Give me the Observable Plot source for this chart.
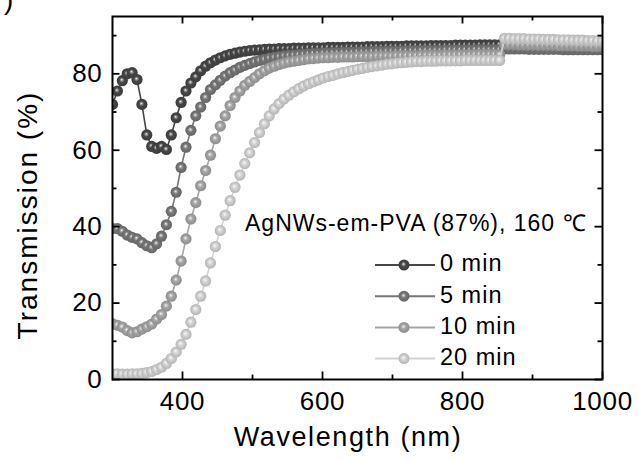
<!DOCTYPE html>
<html><head><meta charset="utf-8">
<script src="https://cdn.jsdelivr.net/npm/d3@7"></script>
<script src="https://cdn.jsdelivr.net/npm/@observablehq/plot@0.6"></script>
<style>html,body{margin:0;padding:0;background:#fff;}</style>
</head><body><div id="chart"></div>
<script>
const wavelength = [
300,307,314,321,328,335,342,349,356,363,
370,377,384,391,398,405,412,419,426,433,
440,447,454,461,468,475,482,489,496,503,
510,517,524,531,538,545,552,559,566,573,
580,587,594,601,608,615,622,629,636,643,
650,657,664,671,678,685,692,699,706,713,
720,727,734,741,748,755,762,769,776,783,
790,797,804,811,818,825,832,839,846,853,
860,867,874,881,888,895,902,909,916,923,
930,937,944,951,958,965,972,979,986,993,
1000];
const seriesNames = ["0 min", "5 min", "10 min", "20 min"];
const trans0 = [
72,75.5,78.2,80,80.3,78.5,72,64,61,60.5,61,60.2,64,68.5,72.5,75.5,77.6,79.2,80.8,82,
82.9,83.6,84.2,84.7,85.1,85.4,85.7,85.9,86.1,86.2,86.3,86.4,86.5,86.5,86.6,86.6,86.6,86.7,86.7,86.7,
86.8,86.8,86.8,86.8,86.9,86.9,86.9,86.9,87.0,87.0,87.0,87.0,87.1,87.1,87.1,87.1,87.2,87.2,87.2,87.2,
87.3,87.3,87.3,87.3,87.3,87.4,87.4,87.4,87.4,87.4,87.5,87.5,87.5,87.5,87.5,87.6,87.6,87.6,87.6,87.6,
87.5,87.5,87.5,87.4,87.4,87.4,87.4,87.3,87.3,87.3,87.3,87.2,87.2,87.2,87.2,87.1,87.1,87.1,87.0,87.0,87.0];
const trans5 = [
39.5,39.5,38.8,37.8,37.2,36.8,35.8,35,34.5,35.5,37.5,40.5,44,49,55.5,60.8,65.2,69,71.3,73.8,
75.9,77.1,78.3,79.4,80.3,81,81.7,82.2,82.7,83.1,83.5,83.8,84.1,84.3,84.5,84.7,84.8,84.9,85.0,85.1,
85.2,85.3,85.3,85.4,85.4,85.5,85.5,85.6,85.6,85.6,85.7,85.7,85.7,85.8,85.8,85.8,85.9,85.9,85.9,86.0,
86.0,86.0,86.0,86.1,86.1,86.1,86.1,86.1,86.2,86.2,86.2,86.2,86.2,86.2,86.3,86.3,86.3,86.3,86.3,86.3,
86.5,86.5,86.5,86.5,86.5,86.4,86.4,86.4,86.4,86.4,86.4,86.4,86.3,86.3,86.3,86.3,86.3,86.3,86.3,86.3,86.3];
const trans10 = [
14.6,14.2,13.7,12.8,12.2,12.5,13.2,13.8,14.5,15.8,17,19.2,21.8,26,31,36.8,42,46.3,50.7,54.7,
58.7,63,66.3,69,71.7,73.8,75.5,77,78,79,80,80.8,81.5,82,82.4,82.8,83.1,83.3,83.5,83.7,
83.9,84.0,84.1,84.2,84.2,84.3,84.3,84.4,84.4,84.4,84.5,84.5,84.5,84.5,84.6,84.6,84.6,84.6,84.7,84.7,
84.7,84.7,84.7,84.8,84.8,84.8,84.8,84.8,84.9,84.9,84.9,84.9,84.9,84.9,85.0,85.0,85.0,85.0,85.0,85.0,
87.7,87.7,87.7,87.6,87.6,87.6,87.6,87.5,87.5,87.5,87.5,87.4,87.4,87.4,87.4,87.3,87.3,87.3,87.2,87.2,87.2];
const trans20 = [
1.5,1.5,1.4,1.4,1.5,1.5,1.6,1.8,2.1,2.6,3.2,4.2,5.5,7.2,9.2,11.8,15,18.3,21.8,25.8,
30.5,34.8,39,43,46.8,50.3,53.5,56.5,59.3,62,64.6,66.9,69,70.8,72.2,73.4,74.4,75.3,76.1,76.8,
77.4,77.9,78.4,78.9,79.3,79.6,80.0,80.3,80.6,80.9,81.2,81.4,81.7,81.9,82.1,82.3,82.5,82.6,82.8,82.9,
83.0,83.1,83.2,83.2,83.3,83.3,83.3,83.4,83.4,83.4,83.4,83.4,83.5,83.5,83.5,83.5,83.5,83.5,83.5,83.5,
89.3,89.3,89.2,89.2,89.2,89.1,89.1,89.1,89.0,89.0,89.0,88.9,88.9,88.9,88.8,88.8,88.8,88.7,88.7,88.6,88.6];
const seriesColors = ["#464646", "#767676", "#a4a4a4", "#d2d2d2"];
const xTicks = [400, 600, 800, 1000];
const xMinorTicks = [500, 700, 900];
const yTicks = [0, 20, 40, 60, 80];
const yMinorTicks = [10, 30, 50, 70, 90];
const xLabel = "Wavelength (nm)";
const yLabel = "Transmission (%)";
const legendTitle = "AgNWs-em-PVA (87%), 160 \u2103";
const panelMark = ")";

const seriesValues = [trans0, trans5, trans10, trans20];
const W = 639, H = 461, mL = 112, mR = 37, mT = 16, mB = 82;
const fw = W - mL - mR, fh = H - mT - mB;
const FONT = "'Liberation Sans', Arial, Helvetica, sans-serif";

const marks = [];
seriesNames.forEach((name, k) => {
  const rows = wavelength.map((w, i) => ({w, t: seriesValues[k][i], name}));
  marks.push(Plot.line(rows, {x: "w", y: "t", stroke: seriesColors[k], strokeWidth: 1.6, clip: true}));
  marks.push(Plot.dot(rows, {x: "w", y: "t", r: 5.6, fill: `url(#ball${k})`, clip: true}));
});
marks.push(Plot.frame({stroke: "#000", strokeWidth: 2}));
const tk = {stroke: "#000", strokeWidth: 1.8};
marks.push(Plot.tickX(xTicks, {x: d => d, insetTop: fh - 7.5, ...tk}));
marks.push(Plot.tickX(xTicks, {x: d => d, insetBottom: fh - 7.5, ...tk}));
marks.push(Plot.tickX(xMinorTicks, {x: d => d, insetTop: fh - 4.5, ...tk}));
marks.push(Plot.tickX(xMinorTicks, {x: d => d, insetBottom: fh - 4.5, ...tk}));
marks.push(Plot.tickY(yTicks, {y: d => d, insetRight: fw - 7.5, ...tk}));
marks.push(Plot.tickY(yTicks, {y: d => d, insetLeft: fw - 7.5, ...tk}));
marks.push(Plot.tickY(yMinorTicks, {y: d => d, insetRight: fw - 4.5, ...tk}));
marks.push(Plot.tickY(yMinorTicks, {y: d => d, insetLeft: fw - 4.5, ...tk}));
marks.push(Plot.axisX({ticks: xTicks, tickSize: 0, tickPadding: 12, fontSize: 26, label: null, tickFormat: "d"}));
marks.push(Plot.axisY({ticks: yTicks, tickSize: 0, tickPadding: 10, fontSize: 26, label: null, tickFormat: "d"}));

marks.push(() => {
  const g = d3.create("svg:g").attr("text-anchor", "start");
  const defs = g.append("defs");
  seriesColors.forEach((c, k) => {
    const rg = defs.append("radialGradient").attr("id", `ball${k}`)
      .attr("cx", "50%").attr("cy", "50%").attr("r", "50%").attr("fx", "44%").attr("fy", "40%");
    rg.append("stop").attr("offset", "0%").attr("stop-color", "#ffffff");
    rg.append("stop").attr("offset", "14%").attr("stop-color", d3.interpolateRgb(c, "#fff")(0.55));
    rg.append("stop").attr("offset", "45%").attr("stop-color", c);
    rg.append("stop").attr("offset", "100%").attr("stop-color", d3.rgb(c).darker(0.45).formatHex());
  });
  // legend
  g.append("text").attr("x", mL + 133).attr("y", 231).attr("font-size", 23).attr("letter-spacing", "1px")
    .attr("text-anchor", "start").attr("fill", "#000").text(legendTitle);
  seriesNames.forEach((name, k) => {
    const cy = 265 + 31.2 * k;
    g.append("line").attr("x1", 375).attr("x2", 435).attr("y1", cy).attr("y2", cy)
      .attr("stroke", seriesColors[k]).attr("stroke-width", 2);
    g.append("circle").attr("cx", 404).attr("cy", cy).attr("r", 5.5).attr("fill", `url(#ball${k})`);
    g.append("text").attr("x", 440).attr("y", cy + 6.3).attr("font-size", 23.5).attr("letter-spacing", "1px")
      .attr("text-anchor", "start").attr("fill", "#000").text(name);
  });
  // axis titles
  g.append("text").attr("x", 348).attr("y", 446).attr("text-anchor", "middle").attr("font-size", 27)
    .attr("letter-spacing", "1.6px").attr("fill", "#000").text(xLabel);
  g.append("text").attr("transform", "translate(36.5,215) rotate(-90)").attr("text-anchor", "middle")
    .attr("font-size", 28).attr("letter-spacing", "2px").attr("fill", "#000").text(yLabel);
  g.append("text").attr("x", 4).attr("y", 9).attr("font-size", 28).attr("text-anchor", "start")
    .attr("fill", "#000").text(panelMark);
  return g.node();
});

const chart = Plot.plot({
  width: W, height: H,
  marginLeft: mL, marginRight: mR, marginTop: mT, marginBottom: mB,
  x: {domain: [300, 1000]},
  y: {domain: [0, 95]},
  style: {fontFamily: FONT, fontSize: "26px", letterSpacing: "0.7px", color: "#000", background: "#fff", overflow: "visible"},
  marks
});
document.getElementById("chart").appendChild(chart);
</script>
</body></html>
